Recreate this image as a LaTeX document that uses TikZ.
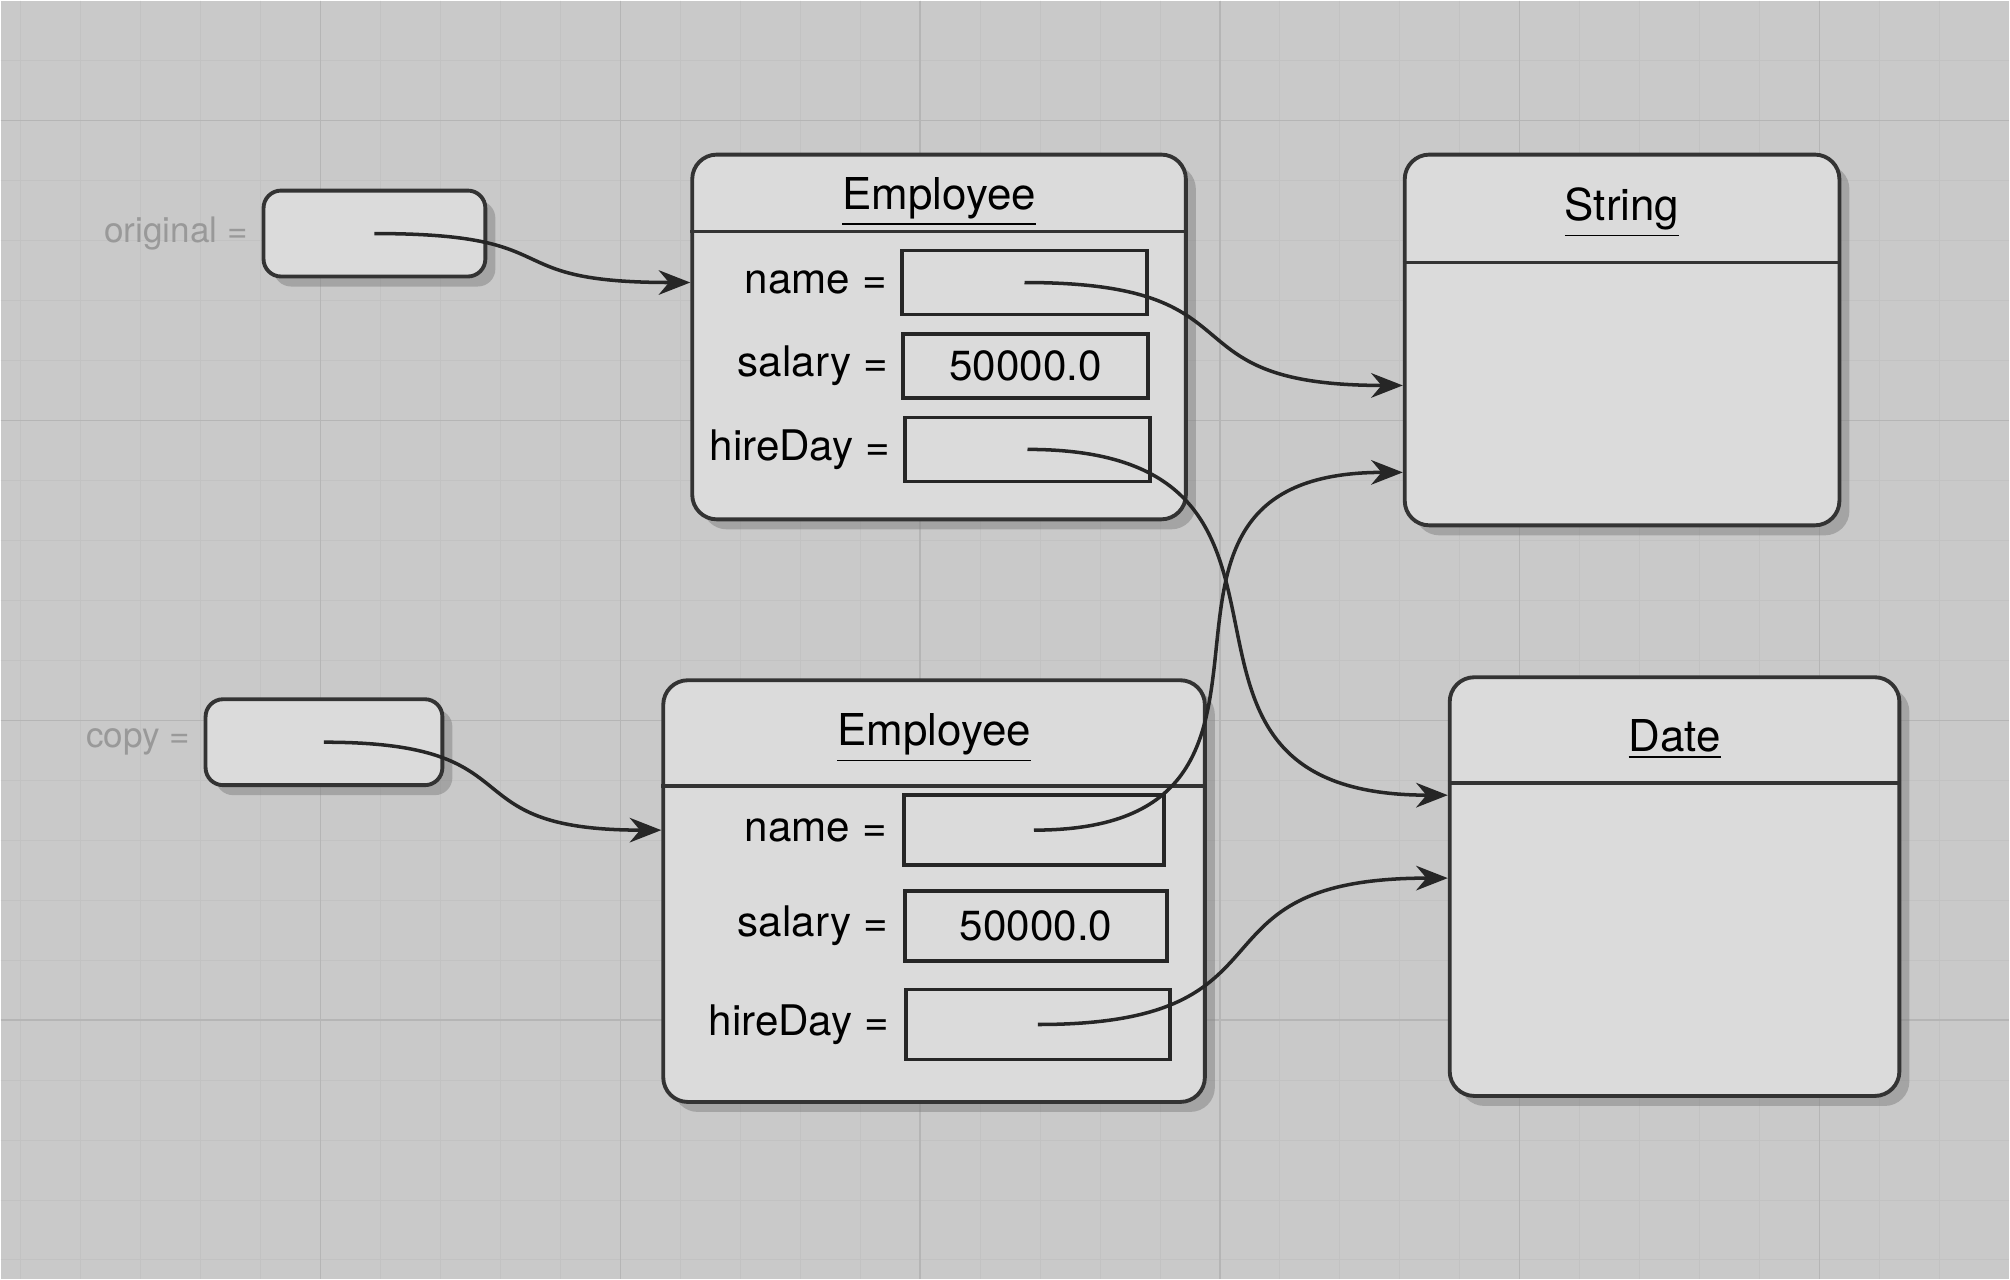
\documentclass[tikz,border=0pt]{standalone}
\usepackage{fontspec}
\setmainfont{TeX Gyre Heros}
\usetikzlibrary{arrows.meta, positioning, shadows}

\begin{document}
\begin{tikzpicture}[
      >={Stealth[length=9pt, width=7pt]},
      font=\fontsize{12}{14}\selectfont,
      shade_obj/.style={drop shadow={shadow xshift=0.1cm, shadow yshift=-0.1cm, opacity=0.5}},
      obj/.style={draw=black!80, line width=1.1pt, rounded corners=7pt, fill=gray!28, inner sep=0pt, shade_obj},
      refbox/.style={draw=black!80, line width=1.1pt, rounded corners=5pt, fill=gray!28, inner sep=0pt,
        minimum height=0.86cm, shade_obj},
      field/.style={draw=black!85, line width=1pt, fill=gray!28, inner sep=0pt,
        minimum width=2.45cm, minimum height=0.64cm},
      lbl/.style={inner sep=0pt},
      varlbl/.style={inner sep=0pt, text=gray!80, font=\fontsize{10}{12}\selectfont},
      ttl/.style={inner sep=0pt, font=\fontsize{12.5}{14}\selectfont},
      ptr/.style={->, line width=1pt, black!85, looseness=1.6}
    ]
    % Seite mit Raster
    \fill[gray!42] (0,0) rectangle (20.1,-12.79);
    \foreach \x in {0.2,0.8,...,20.0} \draw[gray!48, very thin] (\x,0) -- (\x,-12.79);
    \foreach \y in {-0.6,-1.2,...,-12.6} \draw[gray!48, very thin] (0,\y) -- (20.1,\y);
    \foreach \x in {3.2,6.2,...,18.2} \draw[gray!58, thin] (\x,0) -- (\x,-12.79);
    \foreach \y in {-1.2,-4.2,...,-10.2} \draw[gray!58, thin] (0,\y) -- (20.1,\y);

    % Variablen
    \node[refbox, minimum width=2.22cm] (orig) at (3.74,-2.33) {};
    \node[varlbl, left=0.13cm of orig] (origlbl) {original =};
    \node[refbox, minimum width=2.37cm] (cpy) at (3.235,-7.42) {};
    \node[varlbl, left=0.13cm of cpy] (cpylbl) {copy =};

    % Employee oben
    \node[obj, minimum width=4.94cm, minimum height=3.65cm] (emp1) at (9.39,-3.365) {};
    \node[ttl] (emp1ttl) at ([yshift=-0.49cm]emp1.north) {\underline{Employee}};
    \draw[black!80, line width=1pt] ([yshift=-0.79cm]emp1.north west) -- ([yshift=-0.79cm]emp1.north east);
    \node[field] (name1) at (10.245,-2.82) {};
    \node[field] (sal1) at (10.255,-3.655) {50000.0};
    \node[field] (hire1) at (10.275,-4.49) {};
    \node[lbl, left=0.13cm of name1] (name1lbl) {name =};
    \node[lbl, left=0.13cm of sal1] (sal1lbl) {salary =};
    \node[lbl, left=0.13cm of hire1] (hire1lbl) {hireDay =};

    % Employee unten
    \node[obj, minimum width=5.42cm, minimum height=4.22cm] (emp2) at (9.34,-8.91) {};
    \node[ttl] (emp2ttl) at ([yshift=-0.6cm]emp2.north) {\underline{Employee}};
    \draw[black!80, line width=1pt] ([yshift=-1.08cm]emp2.north west) -- ([yshift=-1.08cm]emp2.north east);
    \node[field, minimum width=2.6cm, minimum height=0.7cm] (name2) at (10.34,-8.30) {};
    \node[field, minimum width=2.62cm, minimum height=0.7cm] (sal2) at (10.36,-9.26) {50000.0};
    \node[field, minimum width=2.64cm, minimum height=0.7cm] (hire2) at (10.38,-10.245) {};
    \node[lbl, left=0.15cm of name2] (name2lbl) {name =};
    \node[lbl, left=0.15cm of sal2] (sal2lbl) {salary =};
    \node[lbl, left=0.15cm of hire2] (hire2lbl) {hireDay =};

    % String und Date
    \node[obj, minimum width=4.35cm, minimum height=3.71cm] (str) at (16.225,-3.395) {};
    \node[ttl] (strttl) at ([yshift=-0.6cm]str.north) {\underline{String}};
    \draw[black!80, line width=1pt] ([yshift=-1.1cm]str.north west) -- ([yshift=-1.1cm]str.north east);
    \node[obj, minimum width=4.5cm, minimum height=4.19cm] (date) at (16.75,-8.865) {};
    \node[ttl] (datettl) at ([yshift=-0.64cm]date.north) {\underline{Date}};
    \draw[black!80, line width=1pt] ([yshift=-1.08cm]date.north west) -- ([yshift=-1.08cm]date.north east);

    \coordinate (strin1) at ([yshift=-0.455cm]str.west);
    \coordinate (strin2) at ([yshift=-1.325cm]str.west);
    \coordinate (datein1) at ([yshift=0.915cm]date.west);
    \coordinate (datein2) at ([yshift=0.085cm]date.west);

    % Referenzen
    \draw[ptr] (orig.center) to[out=0, in=180] (emp1.west |- name1);
    \draw[ptr] (cpy.center) to[out=0, in=180] (emp2.west |- name2);
    \draw[ptr] (name1.center) to[out=0, in=180] (strin1);
    \draw[ptr] (hire1.center) to[out=0, in=180] (datein1);
    \draw[ptr] (name2.center) to[out=0, in=180] (strin2);
    \draw[ptr] (hire2.center) to[out=0, in=180] (datein2);
  \end{tikzpicture}
\end{document}
